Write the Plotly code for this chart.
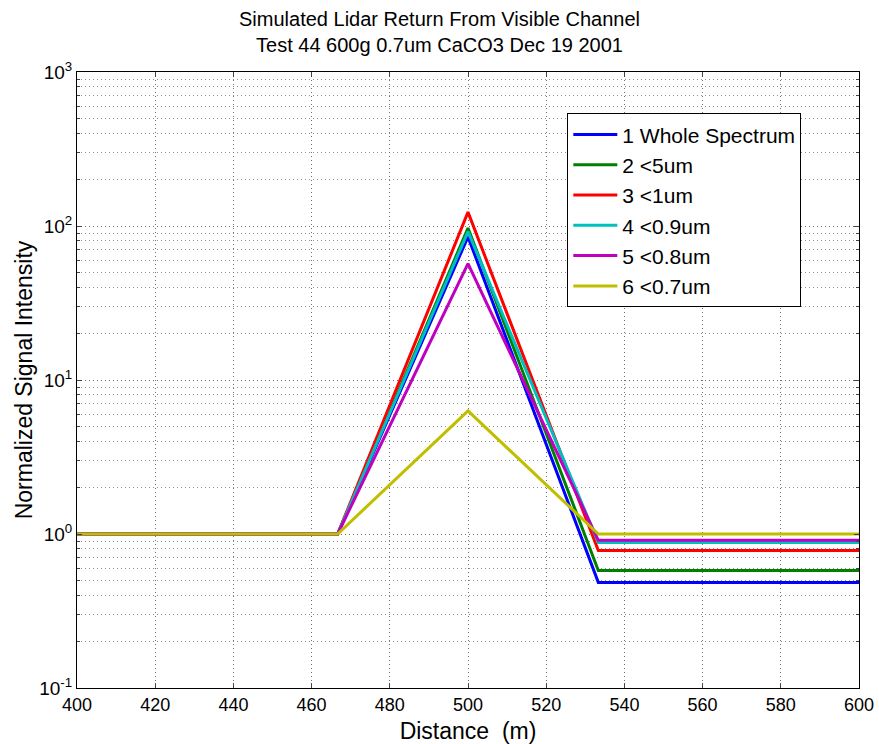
import plotly.graph_objects as go

distance = [400, 466.67, 500, 533.33, 600]
names = ["1 Whole Spectrum", "2 <5um", "3 <1um", "4 <0.9um", "5 <0.8um", "6 <0.7um"]
peak = [85, 97, 123, 92, 57, 6.3]
tail = [0.485, 0.58, 0.78, 0.88, 0.91, 1.0]
colors = ["#0000ff", "#008000", "#ff0000", "#00bfbf", "#bf00bf", "#bfbf00"]

y_tickvals = [0.1, 1, 10, 100, 1000]
y_ticktext = ["10<sup>-1</sup>", "10<sup>0</sup>", "10<sup>1</sup>", "10<sup>2</sup>", "10<sup>3</sup>"]
x_tickvals = list(range(400, 601, 20))

fig = go.Figure()
for n, p, t, c in zip(names, peak, tail, colors):
    fig.add_trace(go.Scatter(
        x=distance, y=[1, 1, p, t, t], mode="lines", name=n,
        line=dict(color=c, width=3)))

grid = dict(showgrid=True, gridcolor="#707070", griddash="1px,3px", gridwidth=1)
fig.update_layout(
    width=879, height=744,
    margin=dict(l=77, r=20, t=72, b=56),
    paper_bgcolor="white", plot_bgcolor="white",
    font=dict(family="Arial, Liberation Sans", color="black", size=18),
    title=dict(text="Simulated Lidar Return From Visible Channel<br>Test 44 600g 0.7um CaCO3 Dec 19 2001",
               x=0.5, xanchor="center", y=0.965, yanchor="top", font=dict(size=20)),
    xaxis=dict(range=[400, 600], tickvals=x_tickvals, ticks="inside", ticklen=5,
               showline=True, linecolor="black", mirror="ticks", zeroline=False,
               automargin=False,
               title=dict(text="Distance  (m)", font=dict(size=23), standoff=10), **grid),
    yaxis=dict(type="log", range=[-1, 3], tickvals=y_tickvals, ticktext=y_ticktext,
               ticks="inside", ticklen=5, showline=True, linecolor="black", mirror="ticks",
               zeroline=False, tickfont=dict(size=19), automargin=False,
               title=dict(text="Normalized Signal Intensity", font=dict(size=23), standoff=0),
               minor=dict(dtick="D1", showgrid=True, gridcolor="#909090", griddash="1px,3px",
                          ticks="inside", ticklen=3),
               **grid),
    legend=dict(x=0.627, y=0.933, xanchor="left", yanchor="top",
                bgcolor="white", bordercolor="black", borderwidth=1,
                font=dict(size=21), itemwidth=44, tracegroupgap=0),
    showlegend=True,
)
fig.write_html("out.html")
